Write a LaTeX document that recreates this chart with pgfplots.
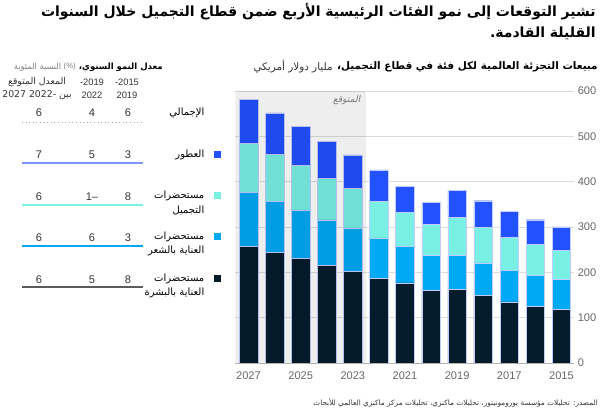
\documentclass[border=0pt]{standalone}
\usepackage{fontspec}
\usepackage{pgfplots}
\usepackage{pgfplotstable}
\pgfplotsset{compat=1.18}
\setmainfont{Liberation Sans}
\newfontfamily\arabicfont[Script=Arabic]{DejaVu Sans}
\newfontfamily\arabicslant[Script=Arabic,FakeSlant=0.2]{DejaVu Sans}
\TeXXeTstate=1

\definecolor{skin}{HTML}{051C2C}
\definecolor{hair}{HTML}{00A9F4}
\definecolor{makeup}{HTML}{78F0E4}
\definecolor{fragrance}{HTML}{2251FF}
\definecolor{barline}{HTML}{C4CCFF}
\definecolor{ticktext}{HTML}{666666}
\definecolor{numtext}{HTML}{333333}

% segment values, billion USD
\pgfplotstableread{
year skin  hair  makeup fragrance
2015 118.5 66.5  63     52
2016 125.7 68.3  68     54
2017 135   70    72     57
2018 148.5 72.5  78     59
2019 162   76    83     60
2020 161   77    68.6   48.4
2021 177   81    73.6   58.4
2022 187   89    81     69
2023 202   96    86.6   74.4
2024 215.5 100.5 92     81
2025 231   106.5 98.5   86
2026 244   112   105    91
2027 257   119   109    97
}\sales

\newcommand{\ar}[1]{{\arabicfont\beginR #1\endR}}

\begin{document}
\begin{tikzpicture}[x=0.75pt,y=0.75pt]
\useasboundingbox (0,0) rectangle (600,413);

\begin{axis}[
    at={(176.6pt,37.5pt)}, anchor=south west,
    scale only axis,
    width=254.25pt, height=204pt,
    ybar stacked,
    bar width=13.9pt,
    xmin=2014.5, xmax=2027.5,
    ymin=0, ymax=600,
    x dir=reverse,
    axis x line=bottom,
    axis y line=right,
    x axis line style={-, draw=gray!60},
    y axis line style={draw=none},
    xtick={2015,2017,...,2027},
    ytick={0,100,...,600},
    major tick length=0pt,
    ymajorgrids=true,
    grid style={gray!28, line width=0.6pt},
    /pgf/number format/assume math mode=true,
    /pgf/number format/1000 sep={},
    xticklabel style={text=ticktext, font=\fontsize{8.3}{10}\selectfont, yshift=-3pt},
    yticklabel style={text=ticktext, font=\fontsize{8.3}{10}\selectfont, xshift=-1pt},
]
\fill[black, fill opacity=0.065] (axis cs:2027.5,0) rectangle (axis cs:2022.5,600);
\node[anchor=north east, text=gray, font=\fontsize{6.8}{8}\selectfont, inner sep=2pt]
    at (axis cs:2022.6,596) {{\arabicslant\beginR المتوقع\endR}};

\addplot[fill=skin, draw=barline, line width=0.3pt] table[x=year, y=skin] {\sales};
\addplot[fill=hair, draw=barline, line width=0.3pt] table[x=year, y=hair] {\sales};
\addplot[fill=makeup, draw=barline, line width=0.3pt] table[x=year, y=makeup] {\sales};
\addplot[fill=fragrance, draw=barline, line width=0.3pt] table[x=year, y=fragrance] {\sales};
\end{axis}

% titles
\node[anchor=east, inner sep=0pt, font=\fontsize{10.5}{13}\selectfont\bfseries] at (596,401)
    {\ar{تشير التوقعات إلى نمو الفئات الرئيسية الأربع ضمن قطاع التجميل خلال السنوات}};
\node[anchor=east, inner sep=0pt, font=\fontsize{10.5}{13}\selectfont\bfseries] at (596,380)
    {\ar{القليلة القادمة.}};

\node[anchor=east, inner sep=0pt, font=\fontsize{7.8}{9}\selectfont\bfseries] (sub) at (598,346)
    {\ar{مبيعات التجزئة العالمية لكل فئة في قطاع التجميل،}};
\node[anchor=east, inner sep=0pt, text=numtext, font=\fontsize{7.8}{9}\selectfont] at ([xshift=-3pt]sub.west)
    {\ar{مليار دولار أمريكي}};

% growth table
\node[anchor=east, inner sep=0pt, font=\fontsize{6.4}{8}\selectfont\bfseries] (hdr) at (163,346)
    {\ar{معدل النمو السنوي،}};
\node[anchor=east, inner sep=0pt, text=gray, font=\fontsize{5.8}{7}\selectfont] (pct) at ([xshift=-2pt]hdr.west)
    {(\%)};
\node[anchor=east, inner sep=0pt, text=gray, font=\fontsize{6.2}{8}\selectfont] at ([xshift=-1.5pt]pct.west)
    {\ar{النسبة المئوية}};

\begin{scope}[font=\fontsize{7}{8}\selectfont, text=numtext]
\node at (127,331) {-2015};
\node at (127,318) {2019};
\node at (92,331) {-2019};
\node at (92,318) {2022};
\node at (37,331) {\ar{المعدل المتوقع}};
\node at (37,318) {{\arabicfont\beginR بين \beginL 2027 -2022\endL{}\endR}};
\end{scope}

\begin{scope}[font=\fontsize{7.5}{9}\selectfont]
\node[anchor=east] at (209,300) {\ar{الإجمالي}};
\node[anchor=east] at (209,258) {\ar{العطور}};
\node[anchor=east] at (209,217) {\ar{مستحضرات}};
\node[anchor=east] at (209,203) {\ar{التجميل}};
\node[anchor=east] at (209,176) {\ar{مستحضرات}};
\node[anchor=east] at (209,162) {\ar{العناية بالشعر}};
\node[anchor=east] at (209,134) {\ar{مستحضرات}};
\node[anchor=east] at (209,120) {\ar{العناية بالبشرة}};
\end{scope}

\fill[fragrance] (213.5,254.5) rectangle (220.5,261.5);
\fill[makeup] (213.5,213.5) rectangle (220.5,220.5);
\fill[hair] (213.5,172.5) rectangle (220.5,179.5);
\fill[skin] (213.5,130.5) rectangle (220.5,137.5);

\begin{scope}[font=\fontsize{8.3}{10}\selectfont, text=numtext]
\node at (128,300) {6}; \node at (92,300) {4}; \node at (39,300) {6};
\node at (128,258) {3}; \node at (92,258) {5}; \node at (39,258) {7};
\node at (128,216) {8}; \node at (92,216) {1–}; \node at (39,216) {6};
\node at (128,175) {3}; \node at (92,175) {6}; \node at (39,175) {6};
\node at (128,133) {8}; \node at (92,133) {5}; \node at (39,133) {6};
\end{scope}

\draw[gray!70, line width=0.7pt, dotted] (22,291) -- (143,291);
\draw[fragrance!60, line width=0.9pt] (22,250) -- (143,250);
\draw[makeup, line width=0.9pt] (22,208) -- (143,208);
\draw[hair, line width=0.9pt] (22,167) -- (143,167);
\draw[numtext!80, line width=0.9pt] (22,126) -- (143,126);

% source
\node[anchor=east, inner sep=0pt, text=numtext, font=\fontsize{5.5}{7}\selectfont] at (598,10)
    {\ar{المصدر: تحليلات مؤسسة يورومونيتور، تحليلات ماكنزي، تحليلات مركز ماكنزي العالمي للأبحاث}};
\end{tikzpicture}
\end{document}
